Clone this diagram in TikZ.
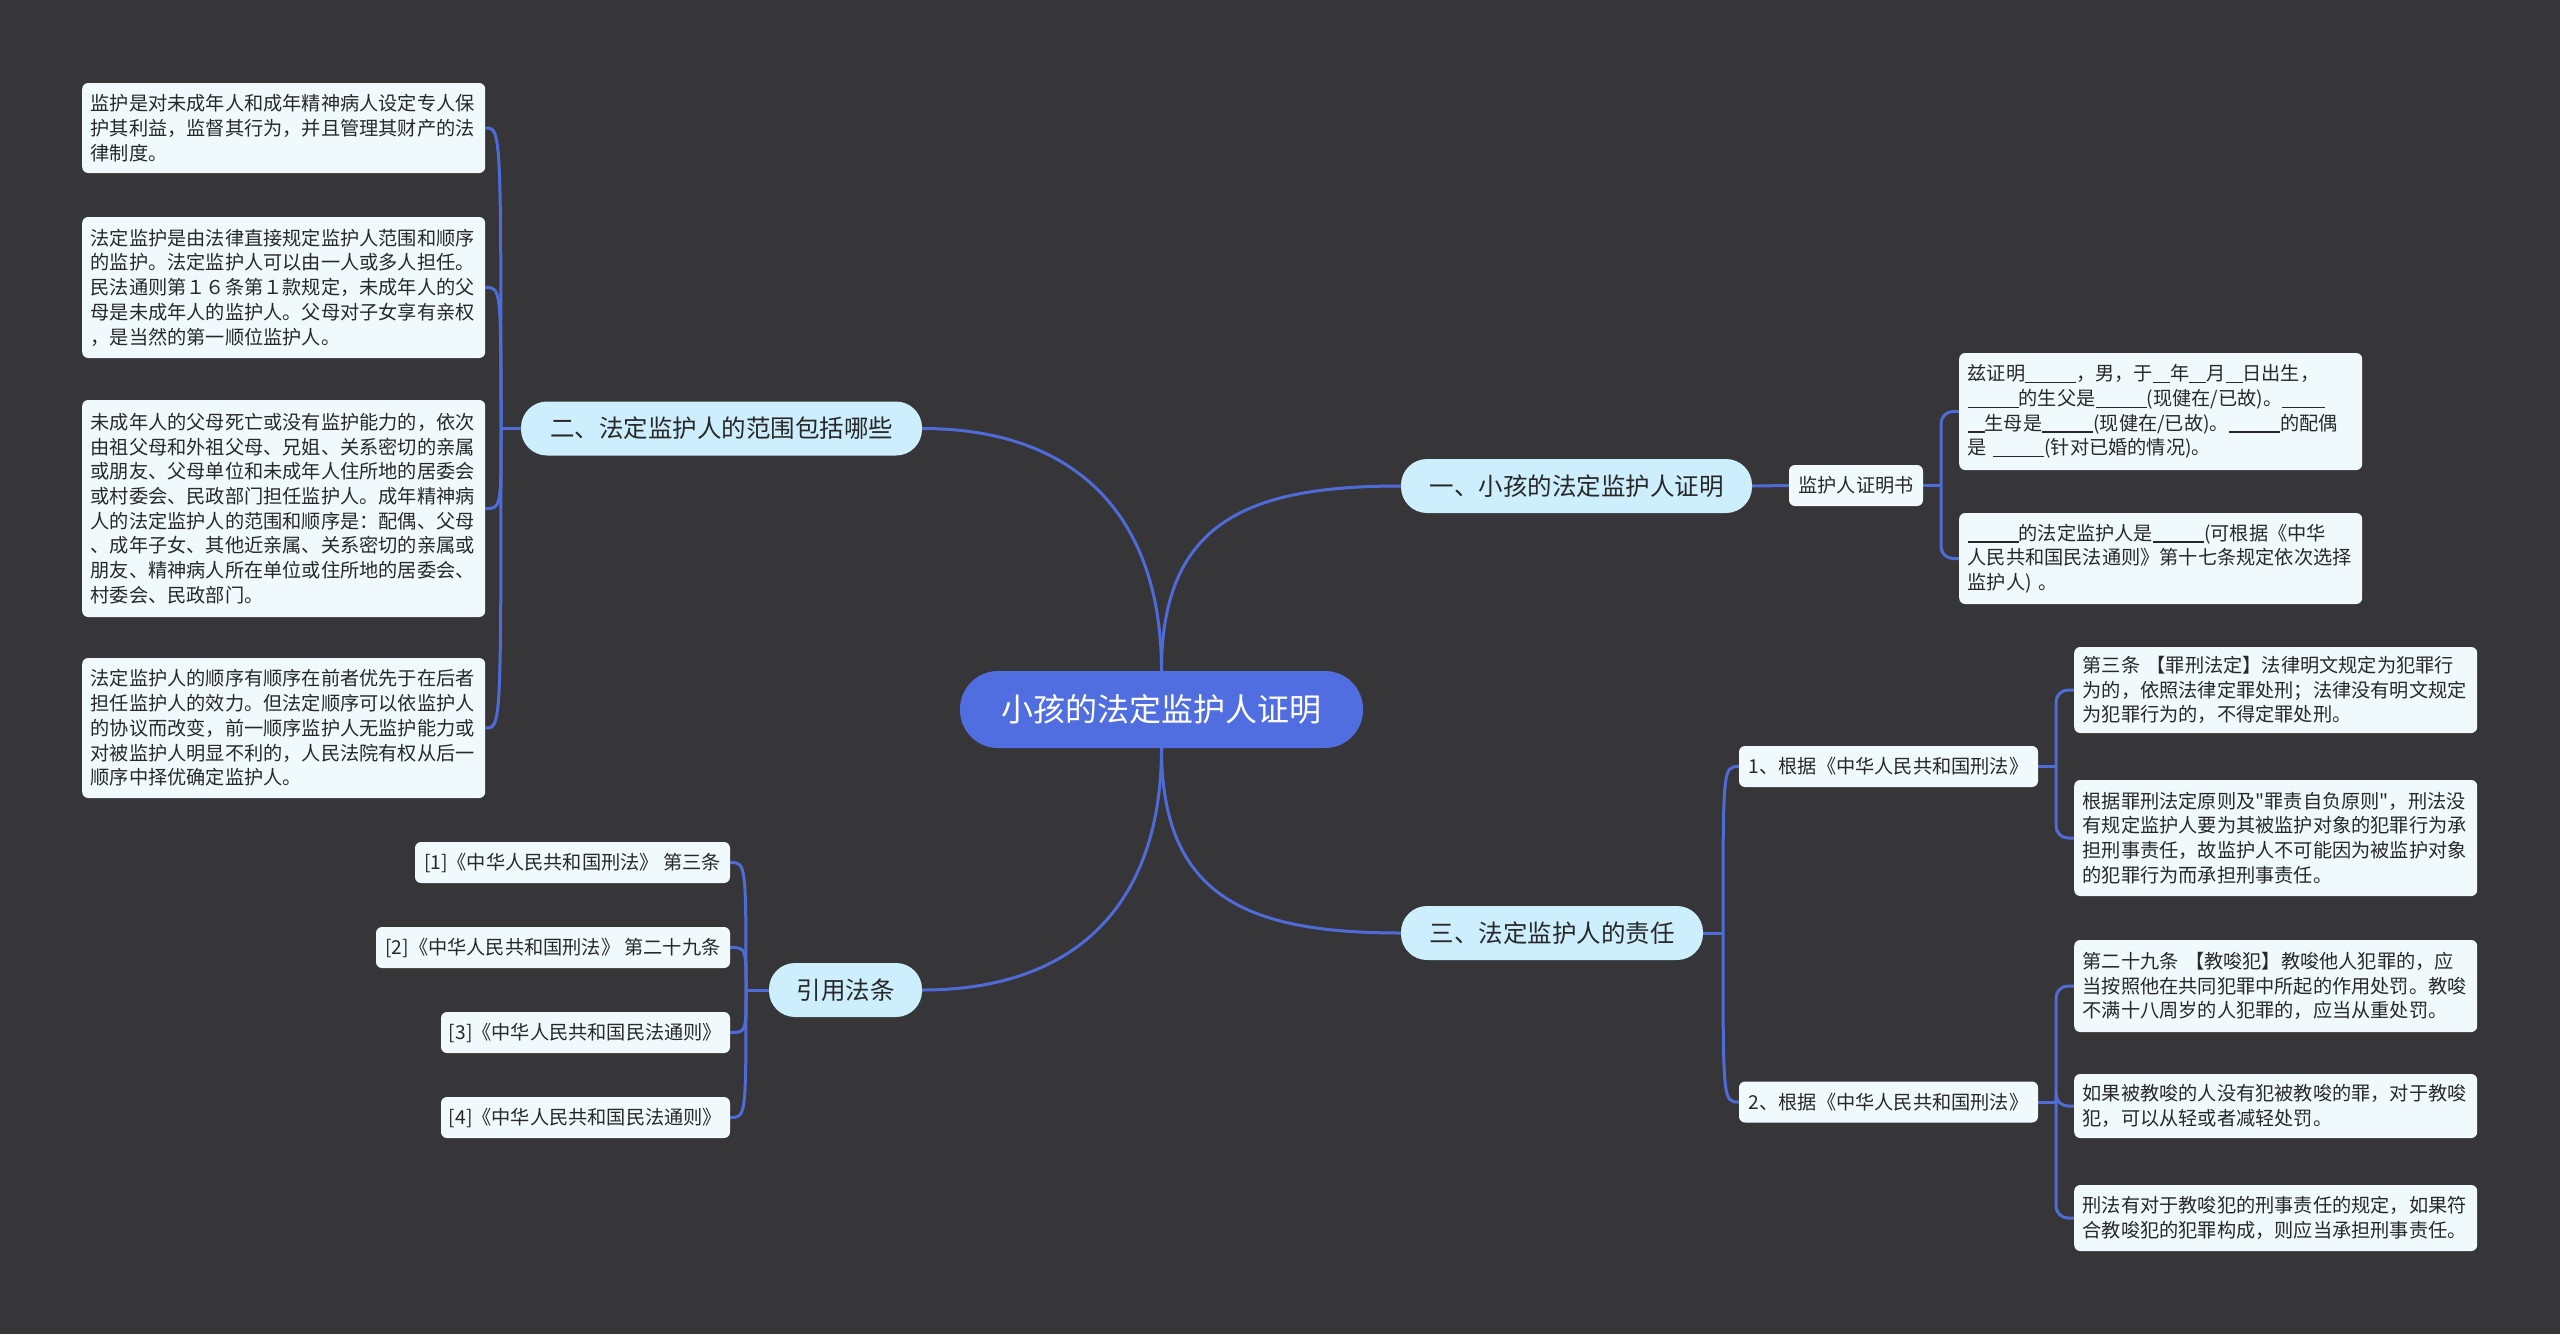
\documentclass[tikz,border=0pt]{standalone}
\usepackage{fontspec}
\setmainfont{Noto Sans CJK SC}
\usetikzlibrary{backgrounds}
\definecolor{bgc}{RGB}{54,53,56}
\definecolor{rootblue}{RGB}{80,110,224}
\definecolor{lightblue}{RGB}{205,238,253}
\definecolor{leaffill}{RGB}{240,250,253}
\definecolor{linec}{RGB}{79,107,216}
\definecolor{textc}{RGB}{40,40,40}
\newcommand{\blankline}[1]{\rule[-2.5pt]{#1pt}{1.2pt}}
\newcommand{\sq}{\XeTeXglyph\XeTeXcharglyph"22\relax}
\begin{document}
\begin{tikzpicture}[x=1pt,y=-1pt,
  conn/.style={draw=linec, line width=3pt},
  rootnode/.style={rounded corners=38pt, fill=rootblue, text=white,
    font=\fontsize{32}{36}\selectfont, minimum width=403pt, minimum height=77pt, inner sep=0pt},
  lvlone/.style={rounded corners=26pt, fill=lightblue, text=textc,
    font=\fontsize{24.5}{28}\selectfont, minimum height=54pt, inner sep=0pt},
  lvltwo/.style={rounded corners=6pt, fill=leaffill, text=textc,
    font=\fontsize{19.2}{24}\selectfont, minimum height=41pt, inner sep=0pt},
  leaf/.style={rounded corners=6pt, fill=leaffill, text=textc, anchor=west,
    font=\fontsize{19.2}{24.7}\selectfont, align=left, text width=386pt,
    inner xsep=8.5pt, inner ysep=0pt}
]
\useasboundingbox (0,0) rectangle (2560,1334);

% central and first level
\node[rootnode] (root) at (1161.5,709.5) {小孩的法定监护人证明};
\node[lvlone, minimum width=401pt] (n2) at (721.5,428.5) {二、法定监护人的范围包括哪些};
\node[lvlone, minimum width=153pt] (cite) at (845.5,990) {引用法条};
\node[lvlone, minimum width=351pt] (n1) at (1576.5,486) {一、小孩的法定监护人证明};
\node[lvlone, minimum width=302pt] (n3) at (1552,933) {三、法定监护人的责任};

% second level
\node[lvltwo, minimum width=134pt] (cert) at (1856,485.5) {监护人证明书};
\node[lvltwo, minimum width=299pt] (law1) at (1888.5,766.5) {1、根据《中华人民共和国刑法》};
\node[lvltwo, minimum width=299pt] (law2) at (1888.5,1102) {2、根据《中华人民共和国刑法》};

% left leaves
\node[leaf, minimum height=90pt] (l1) at (82,128) {监护是对未成年人和成年精神病人设定专人保\\护其利益，监督其行为，并且管理其财产的法\\律制度。};
\node[leaf, minimum height=141pt] (l2) at (82,287.5) {法定监护是由法律直接规定监护人范围和顺序\\的监护。法定监护人可以由一人或多人担任。\\民法通则第１６条第１款规定，未成年人的父\\母是未成年人的监护人。父母对子女享有亲权\\，是当然的第一顺位监护人。};
\node[leaf, minimum height=217pt] (l3) at (82,508.5) {未成年人的父母死亡或没有监护能力的，依次\\由祖父母和外祖父母、兄姐、关系密切的亲属\\或朋友、父母单位和未成年人住所地的居委会\\或村委会、民政部门担任监护人。成年精神病\\人的法定监护人的范围和顺序是：配偶、父母\\、成年子女、其他近亲属、关系密切的亲属或\\朋友、精神病人所在单位或住所地的居委会、\\村委会、民政部门。};
\node[leaf, minimum height=140pt] (l4) at (82,728) {法定监护人的顺序有顺序在前者优先于在后者\\担任监护人的效力。但法定顺序可以依监护人\\的协议而改变，前一顺序监护人无监护能力或\\对被监护人明显不利的，人民法院有权从后一\\顺序中择优确定监护人。};

% citations
\node[lvltwo, minimum width=315pt] (c1) at (572.5,862.5) {[1]《中华人民共和国刑法》 第三条};
\node[lvltwo, minimum width=354pt] (c2) at (553,947.5) {[2]《中华人民共和国刑法》 第二十九条};
\node[lvltwo, minimum width=289pt] (c3) at (585.5,1032.5) {[3]《中华人民共和国民法通则》};
\node[lvltwo, minimum width=289pt] (c4) at (585.5,1117.5) {[4]《中华人民共和国民法通则》};

% right leaves
\node[leaf, minimum height=117pt] (r1) at (1959,411.5) {兹证明\blankline{51}，男，于\blankline{17}年\blankline{17}月\blankline{17}日出生，\\\blankline{51}的生父是\blankline{51}(现健在/已故)。\blankline{43}\\\blankline{17}生母是\blankline{51}(现健在/已故)。\blankline{51}的配偶\\是 \blankline{51}(针对已婚的情况)。};
\node[leaf, minimum height=91pt] (r2) at (1959,558.5) {\blankline{51}的法定监护人是\blankline{51}(可根据《中华\\人民共和国民法通则》第十七条规定依次选择\\监护人) 。};
\node[leaf, minimum height=86pt] (a1) at (2074,690) {第三条 【罪刑法定】法律明文规定为犯罪行\\为的，依照法律定罪处刑；法律没有明文规定\\为犯罪行为的，不得定罪处刑。};
\node[leaf, minimum height=116pt] (a2) at (2074,838) {根据罪刑法定原则及\sq 罪责自负原则\sq ，刑法没\\有规定监护人要为其被监护对象的犯罪行为承\\担刑事责任，故监护人不可能因为被监护对象\\的犯罪行为而承担刑事责任。};
\node[leaf, minimum height=92pt] (b1) at (2074,986) {第二十九条 【教唆犯】教唆他人犯罪的，应\\当按照他在共同犯罪中所起的作用处罚。教唆\\不满十八周岁的人犯罪的，应当从重处罚。};
\node[leaf, minimum height=64pt] (b2) at (2074,1106) {如果被教唆的人没有犯被教唆的罪，对于教唆\\犯，可以从轻或者减轻处罚。};
\node[leaf, minimum height=66pt] (b3) at (2074,1218) {刑法有对于教唆犯的刑事责任的规定，如果符\\合教唆犯的犯罪构成，则应当承担刑事责任。};

% junction points
\coordinate (jl) at (501,428.5);
\coordinate (jc) at (746,990);
\coordinate (j3) at (1723,933);
\coordinate (jcert) at (1941,485.5);
\coordinate (ja) at (2056,766.5);
\coordinate (jb) at (2056,1102);

\begin{pgfonlayer}{background}
\fill[bgc] (0,0) rectangle (2560,1334);
% main branches
\draw[conn] (root.north) .. controls (1161.5,520) and (1250,486) .. (n1.west);
\draw[conn] (n2.east) .. controls (1080,428.5) and (1161.5,520) .. (root.north);
\draw[conn] (root.south) .. controls (1161.5,899) and (1250,933) .. (n3.west);
\draw[conn] (root.south) .. controls (1161.5,900) and (1080,990) .. (cite.east);
% left leaves
\draw[conn] (n2.west) -- (jl);
\foreach \n in {l1,l2,l3,l4}
  \draw[conn] (jl) .. controls (jl |- \n.east) and (jl |- \n.east) .. (\n.east);
\draw[conn] (cite.west) -- (jc);
\foreach \n in {c1,c2,c3,c4}
  \draw[conn] (jc) .. controls (jc |- \n.east) and (jc |- \n.east) .. (\n.east);
% right side
\draw[conn] (n1.east) -- (cert.west);
\draw[conn] (n3.east) -- (j3);
\foreach \n in {law1,law2}
  \draw[conn] (j3) .. controls (j3 |- \n.west) and (j3 |- \n.west) .. (\n.west);
\draw[conn] (cert.east) -- (jcert);
\foreach \n in {r1,r2}
  \draw[conn, rounded corners=12pt] (jcert) |- (\n.west);
\draw[conn] (law1.east) -- (ja);
\foreach \n in {a1,a2}
  \draw[conn, rounded corners=12pt] (ja) |- (\n.west);
\draw[conn] (law2.east) -- (jb);
\foreach \n in {b1,b2,b3}
  \draw[conn, rounded corners=12pt] (jb) |- (\n.west);
\end{pgfonlayer}
\end{tikzpicture}
\end{document}
